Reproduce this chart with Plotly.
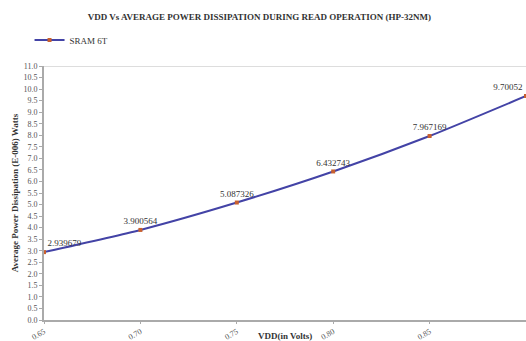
import plotly.graph_objects as go

# Supply voltage (V) and average read power dissipation (x1e-6 W)
vdd = [0.65, 0.70, 0.75, 0.80, 0.85, 0.90]
power = [2.939679, 3.900564, 5.087326, 6.432743, 7.967169, 9.70052]
series_name = "SRAM 6T"
x_ticks = ["0.65", "0.70", "0.75", "0.80", "0.85", "0.90"]

font_family = "Liberation Serif"
label_pos = ["top right"] + ["top center"] * 4 + ["top left"]

fig = go.Figure()
fig.add_trace(go.Scatter(
    x=vdd, y=power, name=series_name,
    mode="lines+markers+text",
    line=dict(color="#4343a6", width=2, shape="spline", smoothing=0.6),
    marker=dict(color="#c8602f", size=4, symbol="square"),
    text=[str(v) for v in power],
    textposition=label_pos,
    textfont=dict(family=font_family, size=9, color="#333333"),
    cliponaxis=False,
))

# thin border along the top of the plotting area
fig.add_shape(type="line", xref="paper", yref="y", x0=0, x1=1, y0=11, y1=11,
              line=dict(color="#bbbbbb", width=1))

fig.update_layout(
    width=526, height=341,
    margin=dict(l=44, r=0, t=66, b=21, autoexpand=False),
    paper_bgcolor="white", plot_bgcolor="white",
    font=dict(family=font_family, size=8, color="#444444"),
    title=dict(text="<b>VDD Vs AVERAGE POWER DISSIPATION DURING READ OPERATION (HP-32NM)</b>",
               x=0.493, xanchor="center", y=1 - 17 / 341, yanchor="middle",
               font=dict(family=font_family, size=9, color="#333333")),
    showlegend=True,
    legend=dict(x=-0.03, xanchor="left", y=1 - 40 / 341, yref="container", yanchor="middle",
                orientation="h", bgcolor="rgba(0,0,0,0)",
                font=dict(family=font_family, size=9, color="#333333"),
                itemwidth=30),
    xaxis=dict(range=[0.65, 0.90], tickvals=vdd, ticktext=x_ticks, tickangle=-30,
               showgrid=False, zeroline=False, showline=True, linecolor="#aaaaaa",
               linewidth=2, ticks="outside", ticklen=2, tickcolor="#aaaaaa",
               tickfont=dict(size=8, color="#555555"), automargin=False),
    yaxis=dict(range=[0, 11], dtick=0.5, tickformat=".1f",
               showgrid=False, zeroline=False, showline=True, linecolor="#aaaaaa",
               linewidth=2, ticks="outside", ticklen=3, tickcolor="#aaaaaa",
               tickfont=dict(size=8, color="#555555"), automargin=False,
               title=dict(text="<b>Average Power Dissipation (E-006) Watts</b>",
                          standoff=3, font=dict(family=font_family, size=9, color="#333333"))),
)

fig.add_annotation(text="<b>VDD(in Volts)</b>", xref="paper", yref="paper",
                   x=0.5, y=0, yshift=-9, yanchor="top", showarrow=False, xanchor="center",
                   font=dict(family=font_family, size=9, color="#333333"))

fig.write_html("out.html")
